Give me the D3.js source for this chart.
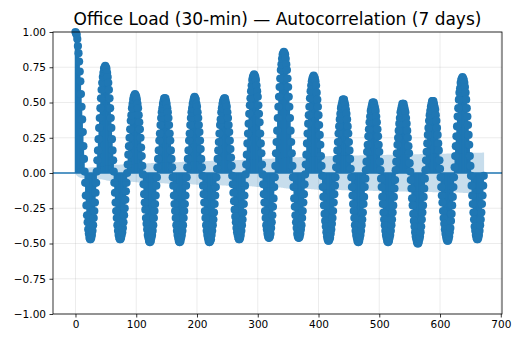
<!DOCTYPE html>
<html>
<head>
<meta charset="utf-8">
<script src="https://cdn.jsdelivr.net/npm/d3@7"></script>
<style>
  body { margin: 0; background: #fff; }
  svg { display: block; }
  text { font-family: "DejaVu Sans", sans-serif; fill: #000; }
</style>
</head>
<body>
<svg id="chart" width="512" height="339"></svg>
<script>
// Chart text and axis ticks
const chartTitle = "Office Load (30-min) — Autocorrelation (7 days)";
const xTickValues = [0, 100, 200, 300, 400, 500, 600, 700];
const yTickValues = [-1, -0.75, -0.5, -0.25, 0, 0.25, 0.5, 0.75, 1];

// Number of half-hourly observations behind the ACF (for the Bartlett band)
const nObs = 40000;

// Sample autocorrelation, one row per 49-lag daily cycle (lags 0..672)
const acfDays = [
  [1.00, 0.99, 0.98, 0.95, 0.90, 0.85, 0.79, 0.72, 0.65, 0.56, 0.47, 0.38, 0.29, 0.19, 0.10, 0.01, -0.07, -0.16, -0.23, -0.30, -0.35, -0.40, -0.43, -0.46, -0.47,
   -0.47, -0.46, -0.44, -0.41, -0.37, -0.32, -0.27, -0.21, -0.14, -0.07, 0.01, 0.09, 0.16, 0.24, 0.32, 0.39, 0.46, 0.53, 0.59, 0.64, 0.68, 0.71, 0.74, 0.75],
  [0.76, 0.75, 0.74, 0.71, 0.68, 0.64, 0.59, 0.53, 0.46, 0.39, 0.32, 0.24, 0.16, 0.09, 0.01, -0.07, -0.14, -0.21, -0.27, -0.32, -0.37, -0.41, -0.44, -0.46, -0.47,
   -0.47, -0.46, -0.44, -0.42, -0.39, -0.35, -0.30, -0.25, -0.19, -0.13, -0.07, 0.00, 0.06, 0.13, 0.19, 0.25, 0.31, 0.37, 0.41, 0.46, 0.49, 0.52, 0.54, 0.55],
  [0.56, 0.55, 0.54, 0.52, 0.49, 0.46, 0.41, 0.36, 0.31, 0.25, 0.18, 0.12, 0.05, -0.01, -0.08, -0.15, -0.21, -0.26, -0.32, -0.36, -0.40, -0.44, -0.46, -0.48, -0.49,
   -0.49, -0.48, -0.46, -0.44, -0.41, -0.37, -0.32, -0.27, -0.22, -0.16, -0.09, -0.03, 0.04, 0.10, 0.16, 0.23, 0.28, 0.34, 0.39, 0.43, 0.46, 0.49, 0.51, 0.53],
  [0.53, 0.53, 0.51, 0.49, 0.46, 0.43, 0.39, 0.34, 0.28, 0.23, 0.16, 0.10, 0.04, -0.03, -0.09, -0.16, -0.22, -0.27, -0.32, -0.37, -0.41, -0.44, -0.46, -0.48, -0.49,
   -0.49, -0.48, -0.46, -0.44, -0.41, -0.37, -0.32, -0.27, -0.22, -0.16, -0.09, -0.03, 0.04, 0.10, 0.16, 0.23, 0.28, 0.34, 0.39, 0.43, 0.46, 0.49, 0.51, 0.53],
  [0.54, 0.53, 0.52, 0.49, 0.47, 0.43, 0.39, 0.34, 0.29, 0.23, 0.17, 0.10, 0.04, -0.02, -0.09, -0.15, -0.21, -0.27, -0.32, -0.37, -0.41, -0.44, -0.46, -0.48, -0.49,
   -0.49, -0.48, -0.47, -0.44, -0.41, -0.37, -0.33, -0.28, -0.22, -0.16, -0.10, -0.03, 0.03, 0.10, 0.16, 0.22, 0.28, 0.34, 0.38, 0.43, 0.46, 0.49, 0.51, 0.52],
  [0.53, 0.53, 0.51, 0.49, 0.47, 0.43, 0.39, 0.34, 0.29, 0.23, 0.17, 0.11, 0.05, -0.02, -0.08, -0.14, -0.20, -0.26, -0.31, -0.35, -0.39, -0.42, -0.44, -0.46, -0.47,
   -0.47, -0.46, -0.44, -0.41, -0.37, -0.33, -0.28, -0.22, -0.16, -0.09, -0.01, 0.06, 0.13, 0.21, 0.28, 0.35, 0.42, 0.48, 0.53, 0.58, 0.62, 0.66, 0.68, 0.69],
  [0.70, 0.69, 0.68, 0.66, 0.62, 0.58, 0.54, 0.48, 0.42, 0.36, 0.28, 0.21, 0.14, 0.06, -0.01, -0.08, -0.15, -0.21, -0.27, -0.32, -0.37, -0.40, -0.43, -0.45, -0.46,
   -0.46, -0.45, -0.43, -0.39, -0.35, -0.30, -0.24, -0.18, -0.10, -0.03, 0.05, 0.14, 0.22, 0.30, 0.39, 0.47, 0.54, 0.61, 0.67, 0.73, 0.77, 0.81, 0.84, 0.85],
  [0.86, 0.85, 0.84, 0.81, 0.77, 0.73, 0.67, 0.61, 0.54, 0.47, 0.39, 0.30, 0.22, 0.14, 0.05, -0.03, -0.10, -0.18, -0.24, -0.30, -0.35, -0.39, -0.43, -0.45, -0.46,
   -0.46, -0.45, -0.43, -0.40, -0.37, -0.32, -0.27, -0.21, -0.15, -0.08, -0.01, 0.06, 0.13, 0.21, 0.28, 0.35, 0.41, 0.47, 0.53, 0.58, 0.62, 0.65, 0.67, 0.68],
  [0.69, 0.68, 0.67, 0.65, 0.62, 0.57, 0.52, 0.47, 0.41, 0.34, 0.27, 0.20, 0.12, 0.05, -0.02, -0.10, -0.17, -0.23, -0.29, -0.34, -0.38, -0.42, -0.45, -0.47, -0.48,
   -0.48, -0.47, -0.46, -0.43, -0.40, -0.36, -0.32, -0.27, -0.21, -0.15, -0.09, -0.03, 0.04, 0.10, 0.16, 0.22, 0.28, 0.33, 0.38, 0.42, 0.46, 0.48, 0.50, 0.52],
  [0.52, 0.52, 0.50, 0.48, 0.45, 0.42, 0.38, 0.33, 0.28, 0.22, 0.16, 0.10, 0.03, -0.03, -0.10, -0.16, -0.22, -0.27, -0.32, -0.37, -0.41, -0.44, -0.46, -0.48, -0.49,
   -0.49, -0.48, -0.46, -0.44, -0.41, -0.37, -0.33, -0.28, -0.22, -0.17, -0.10, -0.04, 0.02, 0.08, 0.15, 0.20, 0.26, 0.31, 0.36, 0.40, 0.44, 0.46, 0.48, 0.50],
  [0.50, 0.50, 0.48, 0.46, 0.44, 0.40, 0.36, 0.31, 0.26, 0.20, 0.15, 0.08, 0.02, -0.04, -0.10, -0.17, -0.22, -0.28, -0.33, -0.37, -0.41, -0.44, -0.46, -0.48, -0.49,
   -0.49, -0.48, -0.46, -0.44, -0.41, -0.37, -0.33, -0.28, -0.23, -0.17, -0.11, -0.05, 0.02, 0.08, 0.14, 0.20, 0.25, 0.30, 0.35, 0.39, 0.43, 0.45, 0.47, 0.49],
  [0.49, 0.49, 0.47, 0.45, 0.43, 0.39, 0.35, 0.30, 0.25, 0.19, 0.14, 0.07, 0.01, -0.05, -0.11, -0.18, -0.23, -0.29, -0.34, -0.38, -0.42, -0.45, -0.47, -0.49, -0.50,
   -0.50, -0.49, -0.47, -0.45, -0.42, -0.38, -0.33, -0.28, -0.23, -0.17, -0.11, -0.04, 0.02, 0.09, 0.15, 0.21, 0.27, 0.32, 0.37, 0.41, 0.44, 0.47, 0.49, 0.51],
  [0.51, 0.51, 0.49, 0.47, 0.45, 0.41, 0.37, 0.32, 0.27, 0.21, 0.16, 0.09, 0.03, -0.03, -0.10, -0.16, -0.21, -0.27, -0.32, -0.36, -0.40, -0.43, -0.45, -0.47, -0.48,
   -0.48, -0.47, -0.45, -0.42, -0.39, -0.34, -0.29, -0.23, -0.17, -0.10, -0.03, 0.04, 0.12, 0.19, 0.26, 0.33, 0.40, 0.46, 0.52, 0.57, 0.60, 0.64, 0.66, 0.67],
  [0.68, 0.67, 0.66, 0.64, 0.61, 0.57, 0.52, 0.46, 0.40, 0.34, 0.27, 0.20, 0.12, 0.05, -0.02, -0.09, -0.16, -0.22, -0.28, -0.33, -0.38, -0.41, -0.44, -0.46, -0.47,
   -0.47, -0.46, -0.44, -0.41, -0.37, -0.33, -0.28, -0.22, -0.16, -0.09, -0.02]
];

const acf = acfDays.flat();
const lags = d3.range(acf.length);

const color = "#1f77b4";
const svg = d3.select("#chart");

const plot = { left: 53, right: 502, top: 32, bottom: 314 };
const x = d3.scaleLinear().domain([-37, 702]).range([plot.left, plot.right]);
const y = d3.scaleLinear().domain([-1, 1]).range([plot.bottom, plot.top]);

// Bartlett confidence band (95%), centred on zero, for lags >= 1
const band = [];
let cumSq = 0;
for (let k = 1; k < acf.length; k++) {
  const v = (1 + 2 * cumSq) / nObs;
  band.push({ lag: k, half: 1.96 * Math.sqrt(v) });
  cumSq += acf[k] * acf[k];
}
band[0] = { lag: band[0].lag - 0.5, half: band[0].half };
band[band.length - 1] = { lag: band[band.length - 1].lag + 0.5, half: band[band.length - 1].half };

svg.append("defs").append("clipPath").attr("id", "plotClip")
  .append("rect")
  .attr("x", plot.left).attr("y", plot.top - 6)
  .attr("width", plot.right - plot.left).attr("height", plot.bottom - plot.top + 12);

// grid
const grid = svg.append("g").attr("stroke", "#b0b0b0").attr("stroke-opacity", 0.3).attr("stroke-width", 0.8);
grid.selectAll("line.gx").data(xTickValues).join("line")
  .attr("x1", d => x(d)).attr("x2", d => x(d))
  .attr("y1", plot.top).attr("y2", plot.bottom);
grid.selectAll("line.gy").data(yTickValues).join("line")
  .attr("x1", plot.left).attr("x2", plot.right)
  .attr("y1", d => y(d)).attr("y2", d => y(d));

const body = svg.append("g").attr("clip-path", "url(#plotClip)");

// stems
body.append("g").attr("stroke", color).attr("stroke-width", 1.5)
  .selectAll("line").data(lags).join("line")
  .attr("x1", d => x(d)).attr("x2", d => x(d))
  .attr("y1", y(0)).attr("y2", d => y(acf[d]));

// markers
body.append("g").attr("fill", color)
  .selectAll("circle").data(lags).join("circle")
  .attr("cx", d => x(d)).attr("cy", d => y(acf[d])).attr("r", 4.1);

// zero line
body.append("line")
  .attr("x1", plot.left).attr("x2", plot.right)
  .attr("y1", y(0)).attr("y2", y(0))
  .attr("stroke", color).attr("stroke-width", 1.5);

// confidence band
body.append("path")
  .datum(band)
  .attr("fill", color).attr("fill-opacity", 0.25)
  .attr("d", d3.area().x(d => x(d.lag)).y0(d => y(-d.half)).y1(d => y(d.half)));

// axes
const xAxis = d3.axisBottom(x).tickValues(xTickValues).tickSize(3.5).tickPadding(3.5).tickFormat(d3.format("d"));
const yAxis = d3.axisLeft(y).tickValues(yTickValues).tickSize(3.5).tickPadding(3.5).tickFormat(d3.format(".2f"));

const gx = svg.append("g").attr("transform", `translate(0,${plot.bottom})`).call(xAxis);
const gy = svg.append("g").attr("transform", `translate(${plot.left},0)`).call(yAxis);
[gx, gy].forEach(g => {
  g.select(".domain").remove();
  g.selectAll(".tick line").attr("stroke", "#000").attr("stroke-width", 0.8);
  g.selectAll(".tick text").attr("font-size", 10.5).attr("font-family", "DejaVu Sans").attr("fill", "#222");
});

// frame
svg.append("rect")
  .attr("x", plot.left).attr("y", plot.top)
  .attr("width", plot.right - plot.left).attr("height", plot.bottom - plot.top)
  .attr("fill", "none").attr("stroke", "#000").attr("stroke-width", 0.8);

// title
svg.append("text")
  .attr("x", (plot.left + plot.right) / 2).attr("y", 25)
  .attr("text-anchor", "middle").attr("font-size", 17)
  .text(chartTitle);
</script>
</body>
</html>
